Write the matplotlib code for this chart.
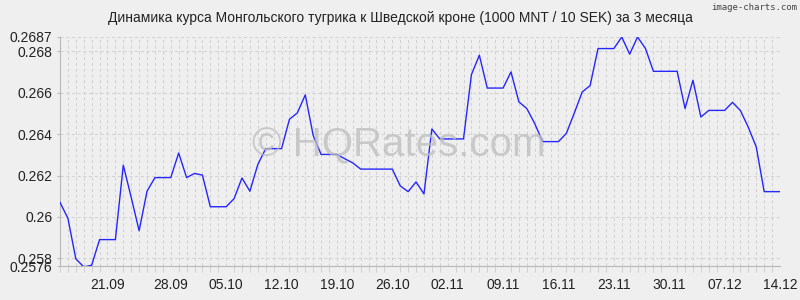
import matplotlib
matplotlib.use("Agg")
import matplotlib.pyplot as plt

# --- данные: курс 1000 MNT / 10 SEK, по дням ---
kurs = [
    0.2607, 0.25993, 0.25797, 0.25758, 0.25766, 0.2589, 0.2589, 0.2589,
    0.2625, 0.26094, 0.25933, 0.26124, 0.2619, 0.2619, 0.2619, 0.26309,
    0.2619, 0.2621, 0.26202, 0.26049, 0.26049, 0.26049, 0.26088, 0.26188,
    0.26124, 0.26253, 0.2633, 0.2633, 0.2633, 0.26472, 0.26503, 0.2659,
    0.26394, 0.26302, 0.26302, 0.26302, 0.26281, 0.26261, 0.26231, 0.26231,
    0.26231, 0.26231, 0.26231, 0.2615, 0.26122, 0.26169, 0.26111, 0.26425,
    0.26377, 0.26377, 0.26377, 0.26377, 0.26688, 0.26782, 0.26623, 0.26623,
    0.26623, 0.26701, 0.26556, 0.26524, 0.26451, 0.26364, 0.26364, 0.26364,
    0.26404, 0.26502, 0.26604, 0.26635, 0.26814, 0.26814, 0.26814, 0.26870,
    0.26787, 0.26870, 0.26814, 0.26704, 0.26704, 0.26704, 0.26704, 0.26524,
    0.26661, 0.26483, 0.26515, 0.26515, 0.26515, 0.26554, 0.26514, 0.26433,
    0.26338, 0.26122, 0.26122, 0.26122,
]
metki_x = ["21.09", "28.09", "05.10", "12.10", "19.10", "26.10", "02.11",
           "09.11", "16.11", "23.11", "30.11", "07.12", "14.12"]
metki_x_idx = [6, 14, 21, 28, 35, 42, 49, 56, 63, 70, 77, 84, 91]
metki_y = [0.2576, 0.258, 0.26, 0.262, 0.264, 0.266, 0.268, 0.2687]
y_min, y_max = 0.2576, 0.2687

zagolovok = "Динамика курса Монгольского тугрика к Шведской кроне (1000 MNT / 10 SEK) за 3 месяца"

plt.rcParams['font.family'] = ['Liberation Sans', 'DejaVu Sans']

fon = '#efefef'
setka = '#d2d2d2'

fig = plt.figure(figsize=(8, 3), dpi=100, facecolor=fon)
ax = fig.add_axes([0.075, 0.1117, 0.9, 0.765], facecolor=fon)

x = list(range(len(kurs)))

# сетка: вертикальные линии на каждый день, горизонтальные на делениях
for i in x:
    ax.axvline(i, color=setka, lw=0.75, ls=(0, (3, 2.5)), zorder=1)
for v in metki_y[1:]:
    ax.axhline(v, color=setka, lw=0.75, ls=(0, (3, 2.5)), zorder=1)

ax.plot(x, kurs, color='#2626ff', lw=1.0, zorder=3)

ax.set_xlim(0, len(kurs) - 1)
ax.set_ylim(y_min, y_max)

ax.set_xticks(metki_x_idx)
ax.set_xticklabels(metki_x)
ax.set_xticks(x, minor=True)
ax.tick_params(axis='x', which='major', length=0, pad=8, labelsize=10, labelcolor='#222222')
ax.tick_params(axis='x', which='minor', length=4, color=setka, width=0.75)

ax.set_yticks(metki_y)
ax.set_yticklabels([f"{v:g}" for v in metki_y])
ax.tick_params(axis='y', length=2.5, pad=3, color='#b8b8b8', labelsize=10, labelcolor='#222222')

for s in ['top', 'right']:
    ax.spines[s].set_visible(False)
for s in ['left', 'bottom']:
    ax.spines[s].set_color('#b8b8b8')
    ax.spines[s].set_linewidth(0.8)

fig.text(0.5, 0.94, zagolovok, ha='center', va='center', fontsize=10, color='#222222')
fig.text(0.996, 0.99, "image-charts.com", ha='right', va='top', fontsize=6.5,
         family='DejaVu Sans Mono', color='#444444')

# водяной знак
fig.text(0.499, 1 - 145 / 300, "© HQRates.com", ha='center', va='center',
         fontsize=29, color='#bdbdbd', alpha=0.75, zorder=2)

fig.savefig("out.png", dpi=100, facecolor=fon)
